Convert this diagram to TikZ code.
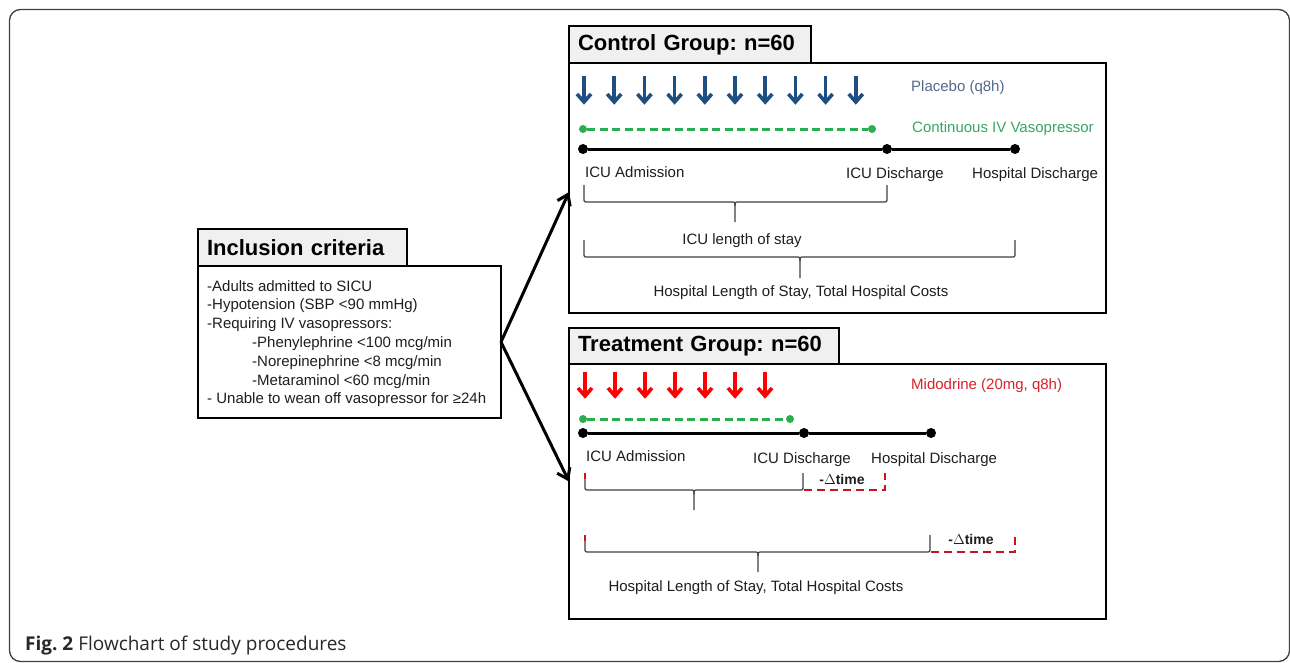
\documentclass[tikz,border=0pt]{standalone}
\usepackage{fontspec}
\setmainfont{Liberation Sans}
\newfontfamily\capfont{Open Sans}
\usetikzlibrary{arrows.meta}
\frenchspacing
\definecolor{arrblue}{RGB}{31,78,128}
\definecolor{plac}{RGB}{85,105,140}
\definecolor{gline}{RGB}{40,175,80}
\definecolor{gtext}{RGB}{55,165,105}
\definecolor{midred}{RGB}{215,35,45}
\definecolor{dashred}{RGB}{200,20,30}
\definecolor{titlefill}{RGB}{240,240,240}
\definecolor{capgray}{RGB}{40,40,40}
\definecolor{txt}{RGB}{30,30,30}
\newcommand\curlybr[6]{%
  \draw[brc] (#1,#4) -- (#1,#5-4) .. controls (#1,#5) .. (#1+4,#5) -- (#3-4,#5) .. controls (#3,#5) .. (#3,#5+4) -- (#3,#6);
  \draw[brc] (#3,#5+4) .. controls (#3,#5) .. (#3+4,#5) -- (#2-4,#5) .. controls (#2,#5) .. (#2,#5-4) -- (#2,#4);}
\newcommand\dnarrow[4]{%
  \draw[#1, line width=3.6pt, line cap=butt] (#2,#3) -- (#2,#4-3);
  \draw[#1, line width=3.6pt, line join=miter, line cap=butt] (#2-7,#4-10) -- (#2,#4-2) -- (#2+7,#4-10);}
\begin{document}
\begin{tikzpicture}[x=1pt,y=-1pt,
  tbox/.style={draw=black, line width=1.8pt, fill=titlefill, inner xsep=9pt, inner ysep=0pt, outer sep=0pt,
    anchor=north west, align=left, font=\bfseries\fontsize{22}{26}\selectfont, text=black},
  bbox/.style={draw=black, line width=1.8pt, inner sep=0pt, outer sep=0pt, anchor=north west},
  lbl/.style={font=\fontsize{15}{18}\selectfont, inner sep=0pt, anchor=west, text=txt},
  dlt/.style={font=\bfseries\fontsize{14}{17}\selectfont, inner sep=0pt, text=txt},
  bdot/.style={circle, fill=black, inner sep=0pt, minimum size=10pt},
  gdot/.style={circle, fill=gline, inner sep=0pt, minimum size=8pt},
  tl/.style={line width=3pt, black},
  gdash/.style={line width=3pt, gline, dash pattern=on 8pt off 4.5pt},
  rdash/.style={line width=2.2pt, dashred, dash pattern=on 8pt off 5pt},
  brc/.style={line width=1.2pt, black!75},
  conn/.style={line width=3pt, black, -{Straight Barb[length=10pt,width=14pt]}}]
\useasboundingbox (0,0) rectangle (1290,662);
\fill[white] (0,0) rectangle (1290,662);
\draw[line width=1.3pt, black!75, rounded corners=11pt] (9.5,9.5) rectangle (1289.5,661.5);

% Inclusion criteria
\node[bbox, minimum width=303pt, minimum height=152pt] (ibody) at (198,266) {};
\node[tbox, text width=191pt, minimum height=37pt, inner xsep=9pt] (ititle) at (198,229) {Inclusion criteria};
\node[anchor=north west, align=left, inner sep=0pt, font=\fontsize{15}{18.8}\selectfont, text=txt] (itext) at (207,280) {%
-Adults admitted to SICU\\
-Hypotension (SBP <90 mmHg)\\
-Requiring IV vasopressors:\\
\hspace*{45pt}-Phenylephrine <100 mcg/min\\
\hspace*{45pt}-Norepinephrine <8 mcg/min\\
\hspace*{45pt}-Metaraminol <60 mcg/min\\
- Unable to wean off vasopressor for ≥24h};

% Control group
\node[bbox, minimum width=537pt, minimum height=250pt] (cbody) at (569,63) {};
\node[tbox, text width=224pt, minimum height=37pt] (ctitle) at (569,26) {Control Group: n=60};
\foreach \i in {0,...,9} { \dnarrow{arrblue}{584+30.2*\i}{76}{104} }
\node[lbl, text=plac] (cplac) at (911,88) {Placebo (q8h)};
\node[gdot] (cg1) at (583,129) {};
\node[gdot] (cg2) at (872,129) {};
\draw[gdash] (cg1) -- (cg2);
\node[lbl, text=gtext] (cvaso) at (912,129) {Continuous IV Vasopressor};
\node[bdot] (ca) at (583,149) {};
\node[bdot] (cd) at (887,149) {};
\node[bdot] (ch) at (1015,149) {};
\draw[tl] (ca) -- (cd) -- (ch);
\node[lbl] (cadm) at (585,172) {ICU Admission};
\node[lbl] (cdis) at (846,175) {ICU Discharge};
\node[lbl] (chos) at (972,175) {Hospital Discharge};
\curlybr{584}{887}{735}{185}{202}{222}
\node[lbl, anchor=center] (clos) at (742,241) {ICU length of stay};
\curlybr{584}{1015}{800}{240}{257}{278}
\node[lbl, anchor=center] (ccost) at (801,293) {Hospital Length of Stay, Total Hospital Costs};

% Treatment group
\node[bbox, minimum width=537pt, minimum height=255pt] (tbody) at (569,364) {};
\node[tbox, text width=252pt, minimum height=36pt] (ttitle) at (569,328) {Treatment Group: n=60};
\foreach \i in {0,...,6} { \dnarrow{red}{585+30*\i}{372}{398} }
\node[lbl, text=midred] (tmid) at (911,386) {Midodrine (20mg, q8h)};
\node[gdot] (tg1) at (583,419) {};
\node[gdot] (tg2) at (790,419) {};
\draw[gdash] (tg1) -- (tg2);
\node[bdot] (ta) at (583,433) {};
\node[bdot] (td) at (804,433) {};
\node[bdot] (th) at (931,433) {};
\draw[tl] (ta) -- (td) -- (th);
\node[lbl] (tadm) at (586,456) {ICU Admission};
\node[lbl] (tdis) at (753,460) {ICU Discharge};
\node[lbl] (thos) at (871,460) {Hospital Discharge};
\curlybr{585}{803}{694}{473}{490}{510}
\draw[line width=1.6pt, dashred] (585,473) -- (585,479);
\draw[rdash] (804,490) -- (885,490) -- (885,473);
\node[dlt] (tdt1) at (842,479) {-$\Delta$time};
\curlybr{585}{930}{758}{535}{552}{572}
\draw[line width=1.6pt, dashred] (585,535) -- (585,541);
\draw[rdash] (931,552) -- (1015,552) -- (1015,534);
\node[dlt] (tdt2) at (971,539) {-$\Delta$time};
\node[lbl, anchor=center] (tcost) at (756,588) {Hospital Length of Stay, Total Hospital Costs};

% Connectors
\draw[conn] (ibody.east) -- ([yshift=-4pt]cbody.west);
\draw[conn] (ibody.east) -- ([yshift=10pt]tbody.west);

% Caption
\node[anchor=west, inner sep=0pt, text=capgray, font=\capfont\fontsize{19}{23}\selectfont] (cap) at (25,646) {\textbf{Fig. 2} Flowchart of study procedures};
\end{tikzpicture}
\end{document}
